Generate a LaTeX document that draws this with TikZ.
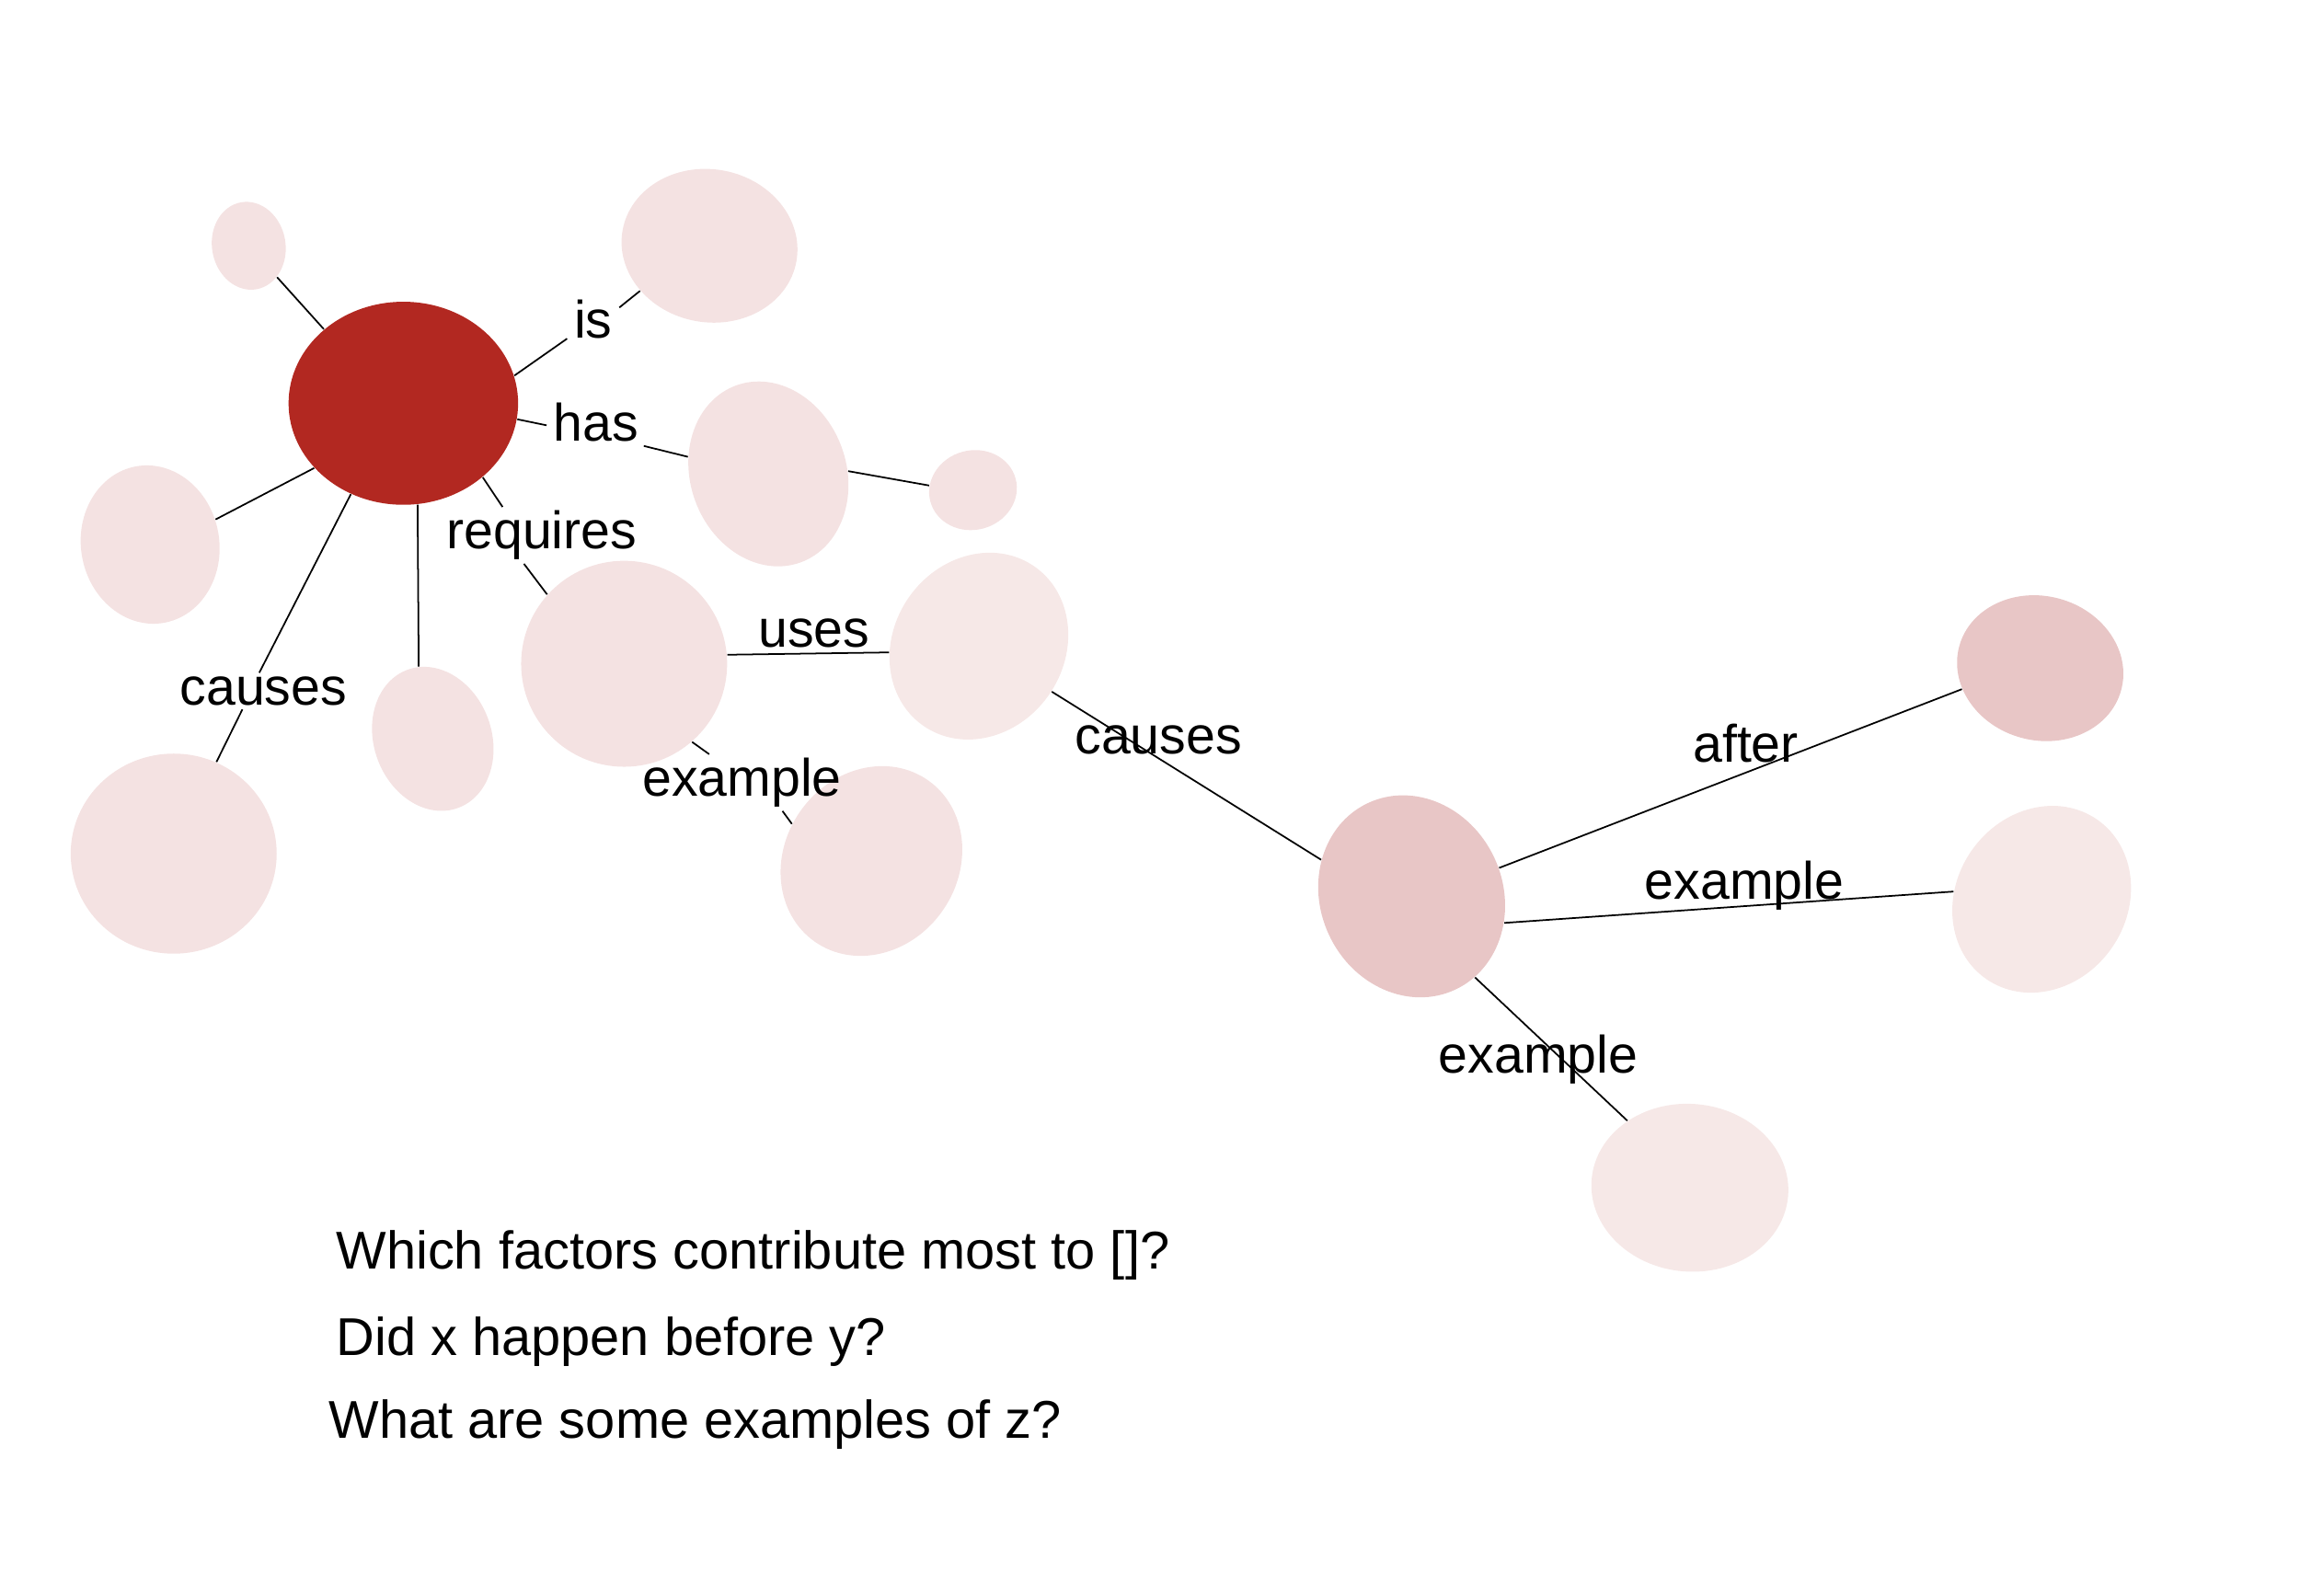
\documentclass[tikz,border=0pt]{standalone}
\usepackage{fontspec}
\setmainfont{Liberation Sans}
\usetikzlibrary{shapes.geometric}
\definecolor{lightpink}{HTML}{F4E2E2}
\definecolor{paler}{HTML}{F6E8E7}
\definecolor{dustypink}{HTML}{E8C6C6}
\definecolor{mainred}{HTML}{B22821}
\tikzset{
  blob/.style 2 args={ellipse, inner sep=0pt, draw=none,
     minimum width={#1*0.032cm}, minimum height={#2*0.032cm}},
  conn/.style={draw=black, line width=0.5pt},
  lbl/.style={anchor=base, inner xsep=2pt, inner ysep=1pt, font=\fontsize{16.3pt}{20pt}\selectfont},
  question/.style={anchor=base west, inner sep=0pt, font=\fontsize{16.45pt}{20pt}\selectfont}
}
\begin{document}
\begin{tikzpicture}[x=0.016cm, y=-0.016cm]
\useasboundingbox (0,0) rectangle (1562.5,1084.375);
% nodes
\node[blob={25}{30}, rotate=10, fill=lightpink] (tl) at (169,167) {};
\node[blob={60}{52}, rotate=-10, fill=lightpink] (isn) at (482,167) {};
\node[blob={78}{69}, fill=mainred] (main) at (274,274) {};
\node[blob={53}{64}, rotate=20, fill=lightpink] (hasn) at (522,322) {};
\node[blob={30}{27}, rotate=15, fill=lightpink] (sm) at (661,333) {};
\node[blob={47}{54}, rotate=10, fill=lightpink] (lm) at (102,370) {};
\node[blob={70}{70}, fill=lightpink] (req) at (424,451) {};
\node[blob={58}{66}, rotate=-35, fill=paler] (uses) at (665,439) {};
\node[blob={40}{50}, rotate=20, fill=lightpink] (bot) at (294,502) {};
\node[blob={70}{68}, fill=lightpink] (cau) at (118,580) {};
\node[blob={59}{67}, rotate=-35, fill=lightpink] (exa) at (592,585) {};
\node[blob={62}{70}, rotate=25, fill=dustypink] (cen) at (959,609) {};
\node[blob={57}{49}, rotate=-15, fill=dustypink] (aft) at (1386,454) {};
\node[blob={58}{66}, rotate=-35, fill=paler] (exb) at (1387,611) {};
\node[blob={67}{57}, rotate=-5, fill=paler] (exc) at (1148,807) {};
% labels
\node[lbl] (lis) at (403,230) {is};
\node[lbl] (lhas) at (405,300) {has};
\node[lbl] (lreq) at (368,373) {requires};
\node[lbl] (lcau) at (179,479) {causes};
\node[lbl] (luses) at (553,440) {uses};
\node[lbl] (lexa) at (504,541) {example};
\node[lbl] (lcau2) at (787,512) {causes};
\node[lbl] (laft) at (1186,518) {after};
\node[lbl] (lexb) at (1185,611) {example};
\node[lbl] (lexc) at (1045,729) {example};
% connectors
\draw[conn] (tl.-58) -- (main.137);
\draw[conn] (main.14) -- (lis.-144);
\draw[conn] (lis.25) -- (isn.223);
\draw[conn] (main.-8) -- (lhas.183);
\draw[conn] (lhas.-26) -- (hasn.148);
\draw[conn] (hasn.-18) -- (sm.159);
\draw[conn] (main.216) -- (lm.11);
\draw[conn] (main.-43) -- (lreq.144);
\draw[conn] (lreq.-122) -- (req.138);
\draw[conn] (main.240) -- (lcau.103);
\draw[conn] (lcau.-139) -- (cau.65);
\draw[conn] (main.-82) -- (bot.81);
\draw[conn] (req.5) -- (uses.219);
\draw[conn] (req.-49) -- (lexa.139);
\draw[conn] (lexa.-35) -- (exa.190);
\draw[conn] (uses.3) -- (cen.133);
\draw[conn] (cen.-7) -- (aft.210);
\draw[conn] (cen.-41) -- (exb.210);
\draw[conn] (cen.-77) -- (exc.138);
% questions
\node[question] (q1) at (228,862) {Which factors contribute most to []?};
\node[question] (q2) at (228,921) {Did x happen before y?};
\node[question] (q3) at (223,977) {What are some examples of z?};
\end{tikzpicture}
\end{document}
